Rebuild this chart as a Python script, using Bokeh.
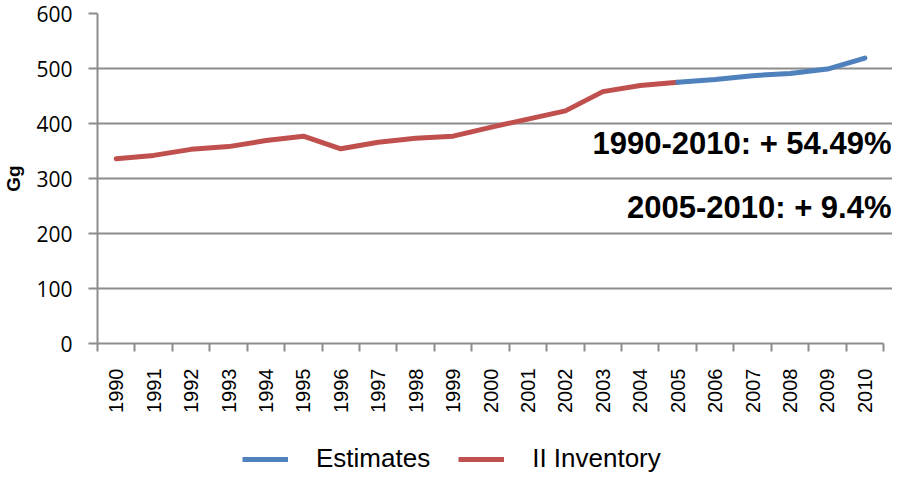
from bokeh.plotting import figure
from bokeh.layouts import column
from bokeh.models import (Range1d, FixedTicker, Legend, LegendItem, Label, ColumnDataSource)
from bokeh.embed import file_html
from bokeh.resources import INLINE

# ---- data ----
years = list(range(1990, 2011))
inv_years = list(range(1990, 2006))
inventory = [336, 342, 353, 358, 369, 377, 354, 366, 373, 377, 393, 408, 423, 458, 469, 475]
est_years = list(range(2005, 2011))
estimates = [475, 480, 487, 491, 499, 519]
y_ticks = [0, 100, 200, 300, 400, 500, 600]
notes = ["1990-2010: + 54.49%", "2005-2010: + 9.4%"]
note_y = [364, 248]
series_names = ["Estimates", "II Inventory"]

BLUE = "#4F81BD"
RED = "#C0504D"
GRID = "#8C8C8C"

X0, X1 = years[0] - 0.5, years[-1] + 0.5
X_END = X0 + 803 / (794 / 21)   # frame a bit wider than the category axis (room for notes)

p = figure(width=892, height=416, output_backend="svg", toolbar_location=None,
           x_range=Range1d(X0, X_END), y_range=Range1d(0, 600),
           min_border_left=89, min_border_right=0, min_border_top=13, min_border_bottom=73)
p.outline_line_color = None
p.background_fill_color = "white"
p.border_fill_color = "white"

inv_src = ColumnDataSource(dict(x=inv_years, y=inventory))
est_src = ColumnDataSource(dict(x=est_years, y=estimates))
r_inv = p.line("x", "y", source=inv_src, line_color=RED, line_width=5,
               line_cap="round", line_join="round")
r_est = p.line("x", "y", source=est_src, line_color=BLUE, line_width=5,
               line_cap="round", line_join="round")

# x axis
xa = p.xaxis[0]
xa.ticker = FixedTicker(ticks=years, minor_ticks=[y - 0.5 for y in years] + [X1])
xa.bounds = (X0, X1)
xa.major_label_overrides = {y: str(y) for y in years}
xa.major_label_orientation = 3.14159265 / 2
xa.major_tick_line_color = None
xa.major_tick_out = 0
xa.major_tick_in = 0
xa.minor_tick_line_color = GRID
xa.minor_tick_line_width = 2
xa.minor_tick_out = 8
xa.minor_tick_in = 0
xa.axis_line_color = GRID
xa.axis_line_width = 2
xa.major_label_text_font = "Liberation Sans"
xa.major_label_text_font_size = "20px"
xa.major_label_text_color = "black"
xa.major_label_standoff = 17

# y axis
ya = p.yaxis[0]
ya.ticker = FixedTicker(ticks=y_ticks)
ya.minor_tick_line_color = None
ya.major_tick_line_color = GRID
ya.major_tick_line_width = 2
ya.major_tick_out = 9
ya.major_tick_in = 0
ya.axis_line_color = GRID
ya.axis_line_width = 2
ya.major_label_text_font = "Open Sans"
ya.major_label_text_font_size = "21px"
ya.major_label_text_color = "black"
ya.major_label_standoff = 16
ya.axis_label = "Gg"
ya.axis_label_text_font = "Liberation Sans"
ya.axis_label_text_font_size = "19px"
ya.axis_label_text_font_style = "bold"
ya.axis_label_text_color = "black"
ya.axis_label_standoff = 9

p.xgrid.grid_line_color = None
p.ygrid.ticker = FixedTicker(ticks=y_ticks)
p.ygrid.bounds = (X0, X1)
p.ygrid.grid_line_color = GRID
p.ygrid.grid_line_width = 2

for txt, yy in zip(notes, note_y):
    p.add_layout(Label(x=X_END, y=yy, text=txt, text_align="right", text_baseline="middle",
                       x_offset=-1, text_font="Liberation Sans", text_font_size="31px",
                       text_font_style="bold", text_color="black"))

# ---- legend strip below the chart (same series, drawn outside its visible range) ----
lg = figure(width=892, height=58, output_backend="svg", toolbar_location=None,
            x_range=Range1d(0, 1), y_range=Range1d(0, 1), min_border=0,
            x_axis_type=None, y_axis_type=None)
lg.outline_line_color = None
lg.xgrid.visible = False
lg.ygrid.visible = False
k_est = lg.line("x", "y", source=est_src, line_color=BLUE, line_width=5)
k_inv = lg.line("x", "y", source=inv_src, line_color=RED, line_width=5)
legend = Legend(items=[LegendItem(label=series_names[0], renderers=[k_est]),
                       LegendItem(label=series_names[1], renderers=[k_inv])],
                orientation="horizontal", location=(145, 0),
                glyph_width=46, glyph_height=20, label_standoff=28, spacing=28,
                label_text_font="Liberation Sans", label_text_font_size="26px",
                label_text_color="black", border_line_color=None,
                background_fill_alpha=0, margin=0, padding=4)
lg.add_layout(legend, "center")

layout = column(p, lg, spacing=0)
open("out.html", "w").write(file_html(layout, INLINE))
